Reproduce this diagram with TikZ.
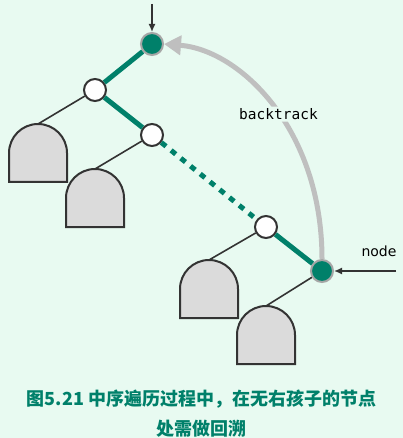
\documentclass[tikz,border=0pt]{standalone}
\usepackage{fontspec}
\usetikzlibrary{positioning}
\usetikzlibrary{calc}
\usetikzlibrary{arrows.meta}
\setmainfont{DejaVu Sans}
\setmonofont{DejaVu Sans Mono}
\newfontfamily\cjk{Noto Sans CJK SC}
\definecolor{bgmint}{RGB}{232,250,241}
\definecolor{tealgreen}{RGB}{0,128,106}
\colorlet{inkdark}{black!80}
\colorlet{trackgray}{black!25}

\begin{document}
\begin{tikzpicture}[x=1pt, y=-1pt,
        current/.style={circle, fill=tealgreen, draw=black!35, line width=2pt, minimum size=22pt, inner sep=0pt},
        visited/.style={circle, fill=white, draw=inkdark, line width=2pt, minimum size=22pt, inner sep=0pt},
        walk/.style={tealgreen, line width=5pt},
        branch/.style={inkdark, line width=1.6pt},
        pointer/.style={inkdark, line width=1.5pt, -{Latex[length=8pt, width=7pt]}},
        subtree/.pic={
            \draw [inkdark, fill=black!14, line width=2pt] (-29,58) -- (-29,29)
                arc [start angle=180, end angle=0, radius=29pt] -- (29,58) -- cycle;
            \coordinate (-top) at (0,0);
        }]
            \fill [bgmint] (0,0) rectangle (403,438);
            \useasboundingbox (0,0) rectangle (403,438);

            % tree nodes along the walk
            \node [current] (root) at (152,44) {};
            \node [visited] (a) at (95,90) {};
            \node [visited] (b) at (152,135) {};
            \node [visited] (c) at (266,227) {};
            \node [current] (cur) at (322,271) {};

            % left subtrees
            \pic (s1) at (38,124) {subtree};
            \pic (s2) at (95,169) {subtree};
            \pic (s3) at (209,260) {subtree};
            \pic (s4) at (266,306) {subtree};

            \draw [branch] (a) -- (s1-top);
            \draw [branch] (b) -- (s2-top);
            \draw [branch] (c) -- (s3-top);
            \draw [branch] (cur) -- (s4-top);

            \draw [walk] (root) -- (a);
            \draw [walk] (a) -- (b);
            \draw [walk, dash pattern=on 6pt off 6.5pt] (b) -- (c);
            \draw [walk] (c) -- (cur);

            % backtrack arc
            \draw [trackgray, line width=5pt, -{Triangle[length=17pt, width=19pt]}]
                (cur.north) .. controls +(0,-130) and +(76,6) .. (root.east)
                node [pos=0.46, fill=bgmint, rounded corners=2pt, inner sep=2pt, text=black,
                    font=\ttfamily\fontsize{14.5}{16}\selectfont] (bt) {backtrack};

            % pointers
            \coordinate (entry) at (152,4);
            \draw [pointer] (entry) -- (root.north);
            \coordinate (side) at (396,271);
            \draw [pointer] (side) -- (cur.east);
            \node [font=\fontsize{14}{16}\selectfont, text=black] (lbl) at (379,251) {node};

            \node [font=\cjk\bfseries\fontsize{18}{30}\selectfont, text=tealgreen, align=center]
                (caption) at (201.5,414)
                {图5.21 中序遍历过程中，在无右孩子的节点\\处需做回溯};
        \end{tikzpicture}
\end{document}
